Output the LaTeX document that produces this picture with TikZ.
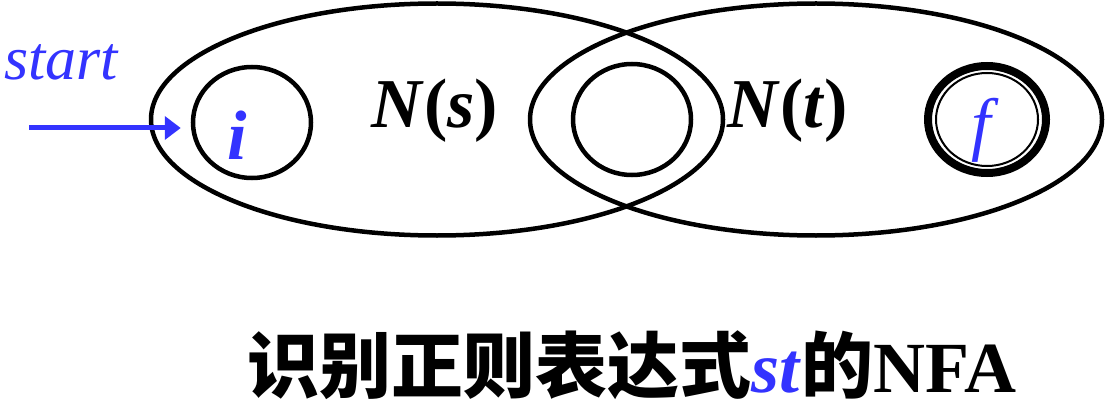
\documentclass[tikz,border=0pt]{standalone}
\usepackage{fontspec}
\setmainfont{Liberation Serif}
\newfontfamily\cjk{Noto Sans CJK SC}
\usetikzlibrary{shapes.geometric,arrows.meta}
\definecolor{myblue}{RGB}{51,51,255}
\begin{document}
\begin{tikzpicture}[x=1pt,y=-1pt,
  region/.style={ellipse,draw,line width=4.5pt,inner sep=0pt,minimum width=572pt,minimum height=232pt},
  state/.style={ellipse,draw,line width=4.5pt,inner sep=0pt,minimum width=118pt,minimum height=111pt},
  lbl/.style={inner sep=0pt,anchor=base,font=\fontsize{70}{82}\selectfont},
  bluelbl/.style={lbl,text=myblue}]
\useasboundingbox (0,0) rectangle (1111,401);
\node[region] (Ns) at (437,119.5) {};
\node[region] (Nt) at (816,119.5) {};
\node[state] (i) at (252,122.5) {};
\node[state] (m) at (632,119.5) {};
\node[state,line width=8pt,minimum width=118pt,minimum height=107pt] (f) at (987,119.5) {};
\node[state,line width=2pt,minimum width=102pt,minimum height=93pt] (fin) at (987,119.5) {};
\node[bluelbl] (itext) at (237,160) {\textbf{\textit{i}}};
\node[bluelbl] (ftext) at (985,148) {\textit{f}};
\node[lbl] (NsText) at (435,128) {\textbf{\textit{N}(\textit{s})}};
\node[lbl] (NtText) at (788,128) {\textbf{\textit{N}(\textit{t})}};
\node[inner sep=0pt,anchor=base west,text=myblue,font=\fontsize{62}{72}\selectfont\itshape] (start) at (4,80) {start};
\coordinate (a0) at (29,128);
\draw[myblue,line width=5pt,shorten >=10pt,-{Triangle[length=16pt,width=23pt]}] (a0) -- (a0 -| i.west);
\node[lbl,font=\fontsize{72}{86}\selectfont] (title) at (632,392) {{\cjk\bfseries 识别正则表达式}\textcolor{myblue}{\textbf{\textit{st}}}{\cjk\bfseries 的}\textbf{NFA}};
\end{tikzpicture}
\end{document}
